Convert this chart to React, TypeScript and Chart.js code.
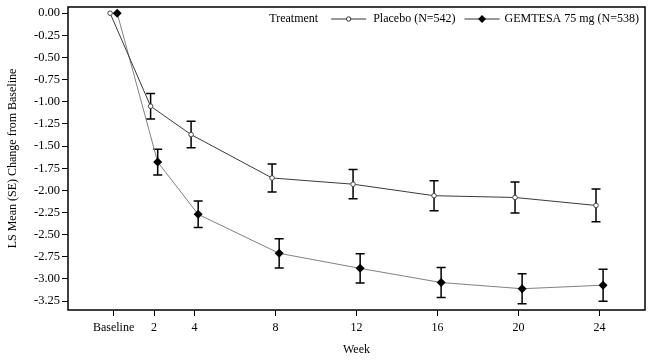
import React, { useEffect, useRef } from "react";
import { Chart, registerables } from "chart.js";

Chart.register(...registerables);

const weeks = [0, 2, 4, 8, 12, 16, 20, 24];
const weekLabels = ["Baseline", "2", "4", "8", "12", "16", "20", "24"];
const placeboMean = [0, -1.05, -1.37, -1.86, -1.93, -2.06, -2.08, -2.17];
const placeboSE = [0, 0.145, 0.15, 0.157, 0.165, 0.17, 0.175, 0.185];
const gemtesaMean = [0, -1.68, -2.27, -2.71, -2.88, -3.04, -3.11, -3.07];
const gemtesaSE = [0, 0.145, 0.15, 0.165, 0.165, 0.17, 0.17, 0.18];
const yTicks = [0, -0.25, -0.5, -0.75, -1, -1.25, -1.5, -1.75, -2, -2.25, -2.5, -2.75, -3, -3.25];
const placeboLabel = "Placebo (N=542)";
const gemtesaLabel = "GEMTESA 75 mg (N=538)";
const legendTitle = "Treatment";

const SERIF = '"Liberation Serif", "Times New Roman", serif';
const placeboShift = -0.17;
const gemtesaShift = 0.18;

const errorBarPlugin = {
  id: "errorBars",
  beforeDatasetsDraw(chart: any) {
    const { ctx } = chart;
    const xs = chart.scales.x;
    const ys = chart.scales.y;
    const sets = [
      { mean: placeboMean, se: placeboSE, shift: placeboShift },
      { mean: gemtesaMean, se: gemtesaSE, shift: gemtesaShift },
    ];
    ctx.save();
    ctx.strokeStyle = "#000";
    ctx.lineWidth = 1.5;
    sets.forEach((s) => {
      weeks.forEach((w, i) => {
        if (!s.se[i]) return;
        const x = xs.getPixelForValue(w + s.shift);
        const yt = ys.getPixelForValue(s.mean[i] + s.se[i]);
        const yb = ys.getPixelForValue(s.mean[i] - s.se[i]);
        ctx.beginPath();
        ctx.moveTo(x, yt);
        ctx.lineTo(x, yb);
        ctx.moveTo(x - 4.5, yt);
        ctx.lineTo(x + 4.5, yt);
        ctx.moveTo(x - 4.5, yb);
        ctx.lineTo(x + 4.5, yb);
        ctx.stroke();
      });
    });
    ctx.restore();
  },
};

const framePlugin = {
  id: "frameLegend",
  afterDraw(chart: any) {
    const { ctx, chartArea } = chart;
    ctx.save();
    ctx.strokeStyle = "#000";
    ctx.lineWidth = 1.5;
    ctx.strokeRect(chartArea.left, chartArea.top, chartArea.right - chartArea.left, chartArea.bottom - chartArea.top);

    // legend, laid out so that it ends near the right edge of the frame
    ctx.font = `12px ${SERIF}`;
    ctx.textBaseline = "middle";
    const y = chartArea.top + 12;
    const wT = ctx.measureText(legendTitle).width;
    const wP = ctx.measureText(placeboLabel).width;
    const wG = ctx.measureText(gemtesaLabel).width;
    const total = wT + 13 + 35 + 7 + wP + 9 + 35 + 5 + wG;
    let x = chartArea.right - 6 - total;
    ctx.fillStyle = "#000";
    ctx.fillText(legendTitle, x, y);
    x += wT + 13;
    ctx.strokeStyle = "#333";
    ctx.lineWidth = 1;
    ctx.beginPath();
    ctx.moveTo(x, y);
    ctx.lineTo(x + 35, y);
    ctx.stroke();
    ctx.beginPath();
    ctx.fillStyle = "#fff";
    ctx.arc(x + 17.5, y, 2.2, 0, Math.PI * 2);
    ctx.fill();
    ctx.stroke();
    x += 35 + 7;
    ctx.fillStyle = "#000";
    ctx.fillText(placeboLabel, x, y);
    x += wP + 9;
    ctx.strokeStyle = "#333";
    ctx.beginPath();
    ctx.moveTo(x, y);
    ctx.lineTo(x + 35, y);
    ctx.stroke();
    const cx = x + 17.5;
    ctx.beginPath();
    ctx.moveTo(cx, y - 4);
    ctx.lineTo(cx + 4, y);
    ctx.lineTo(cx, y + 4);
    ctx.lineTo(cx - 4, y);
    ctx.closePath();
    ctx.fillStyle = "#000";
    ctx.fill();
    x += 35 + 5;
    ctx.fillText(gemtesaLabel, x, y);
    ctx.restore();
  },
};

export default function App() {
  const ref = useRef<HTMLCanvasElement | null>(null);
  useEffect(() => {
    if (!ref.current) return;
    const chart = new Chart(ref.current, {
      type: "line",
      data: {
        datasets: [
          {
            label: placeboLabel,
            data: weeks.map((w, i) => ({ x: w + placeboShift, y: placeboMean[i] })),
            borderColor: "#3a3a3a",
            borderWidth: 1,
            pointStyle: "circle",
            pointRadius: 2.3,
            pointBackgroundColor: "#fff",
            pointBorderColor: "#444",
            pointBorderWidth: 1,
            tension: 0,
          },
          {
            label: gemtesaLabel,
            data: weeks.map((w, i) => ({ x: w + gemtesaShift, y: gemtesaMean[i] })),
            borderColor: "#808080",
            borderWidth: 1,
            pointStyle: "rectRot",
            pointRadius: 4.5,
            pointBackgroundColor: "#000",
            pointBorderColor: "#000",
            pointBorderWidth: 0,
            tension: 0,
          },
        ],
      },
      options: {
        responsive: false,
        animation: false,
        layout: { padding: { top: 7, right: 8, left: 0, bottom: 0 } },
        plugins: { legend: { display: false }, tooltip: { enabled: false } },
        scales: {
          x: {
            type: "linear",
            min: -2.25,
            max: 26.25,
            afterBuildTicks(scale: any) {
              scale.ticks = weeks.map((v) => ({ value: v }));
            },
            afterFit(scale: any) {
              scale.height = 52;
              scale.paddingLeft = 0;
              scale.paddingRight = 0;
            },
            ticks: {
              autoSkip: false,
              maxRotation: 0,
              padding: 5,
              color: "#000",
              font: { family: SERIF, size: 12 },
              callback: (v: any) => {
                const i = weeks.indexOf(Number(v));
                return i >= 0 ? weekLabels[i] : "";
              },
            },
            grid: { drawOnChartArea: false, drawTicks: true, tickLength: 6, color: "#000", lineWidth: 1 },
            border: { display: false },
            title: { display: true, text: "Week", color: "#000", font: { family: SERIF, size: 12 }, padding: { top: 0, bottom: 5 } },
          },
          y: {
            type: "linear",
            min: -3.35,
            max: 0.07,
            afterBuildTicks(scale: any) {
              scale.ticks = yTicks.map((v) => ({ value: v }));
            },
            afterFit(scale: any) {
              scale.width = 68;
              scale.paddingTop = 0;
              scale.paddingBottom = 0;
            },
            ticks: {
              padding: 2,
              color: "#000",
              font: { family: SERIF, size: 12.5 },
              callback: (v: any) => Number(v).toFixed(2),
            },
            grid: { drawOnChartArea: false, drawTicks: true, tickLength: 6, color: "#000", lineWidth: 1 },
            border: { display: false },
            title: { display: true, text: "LS Mean (SE) Change from Baseline", color: "#000", font: { family: SERIF, size: 12 }, padding: { top: 6, bottom: 0 } },
          },
        },
      },
      plugins: [errorBarPlugin, framePlugin],
    });
    return () => chart.destroy();
  }, []);
  return (
    <div style={{ position: "absolute", left: 0, top: 0, width: 653, height: 362, background: "#fff" }}>
      <canvas ref={ref} width={653} height={362} style={{ display: "block" }} />
    </div>
  );
}
